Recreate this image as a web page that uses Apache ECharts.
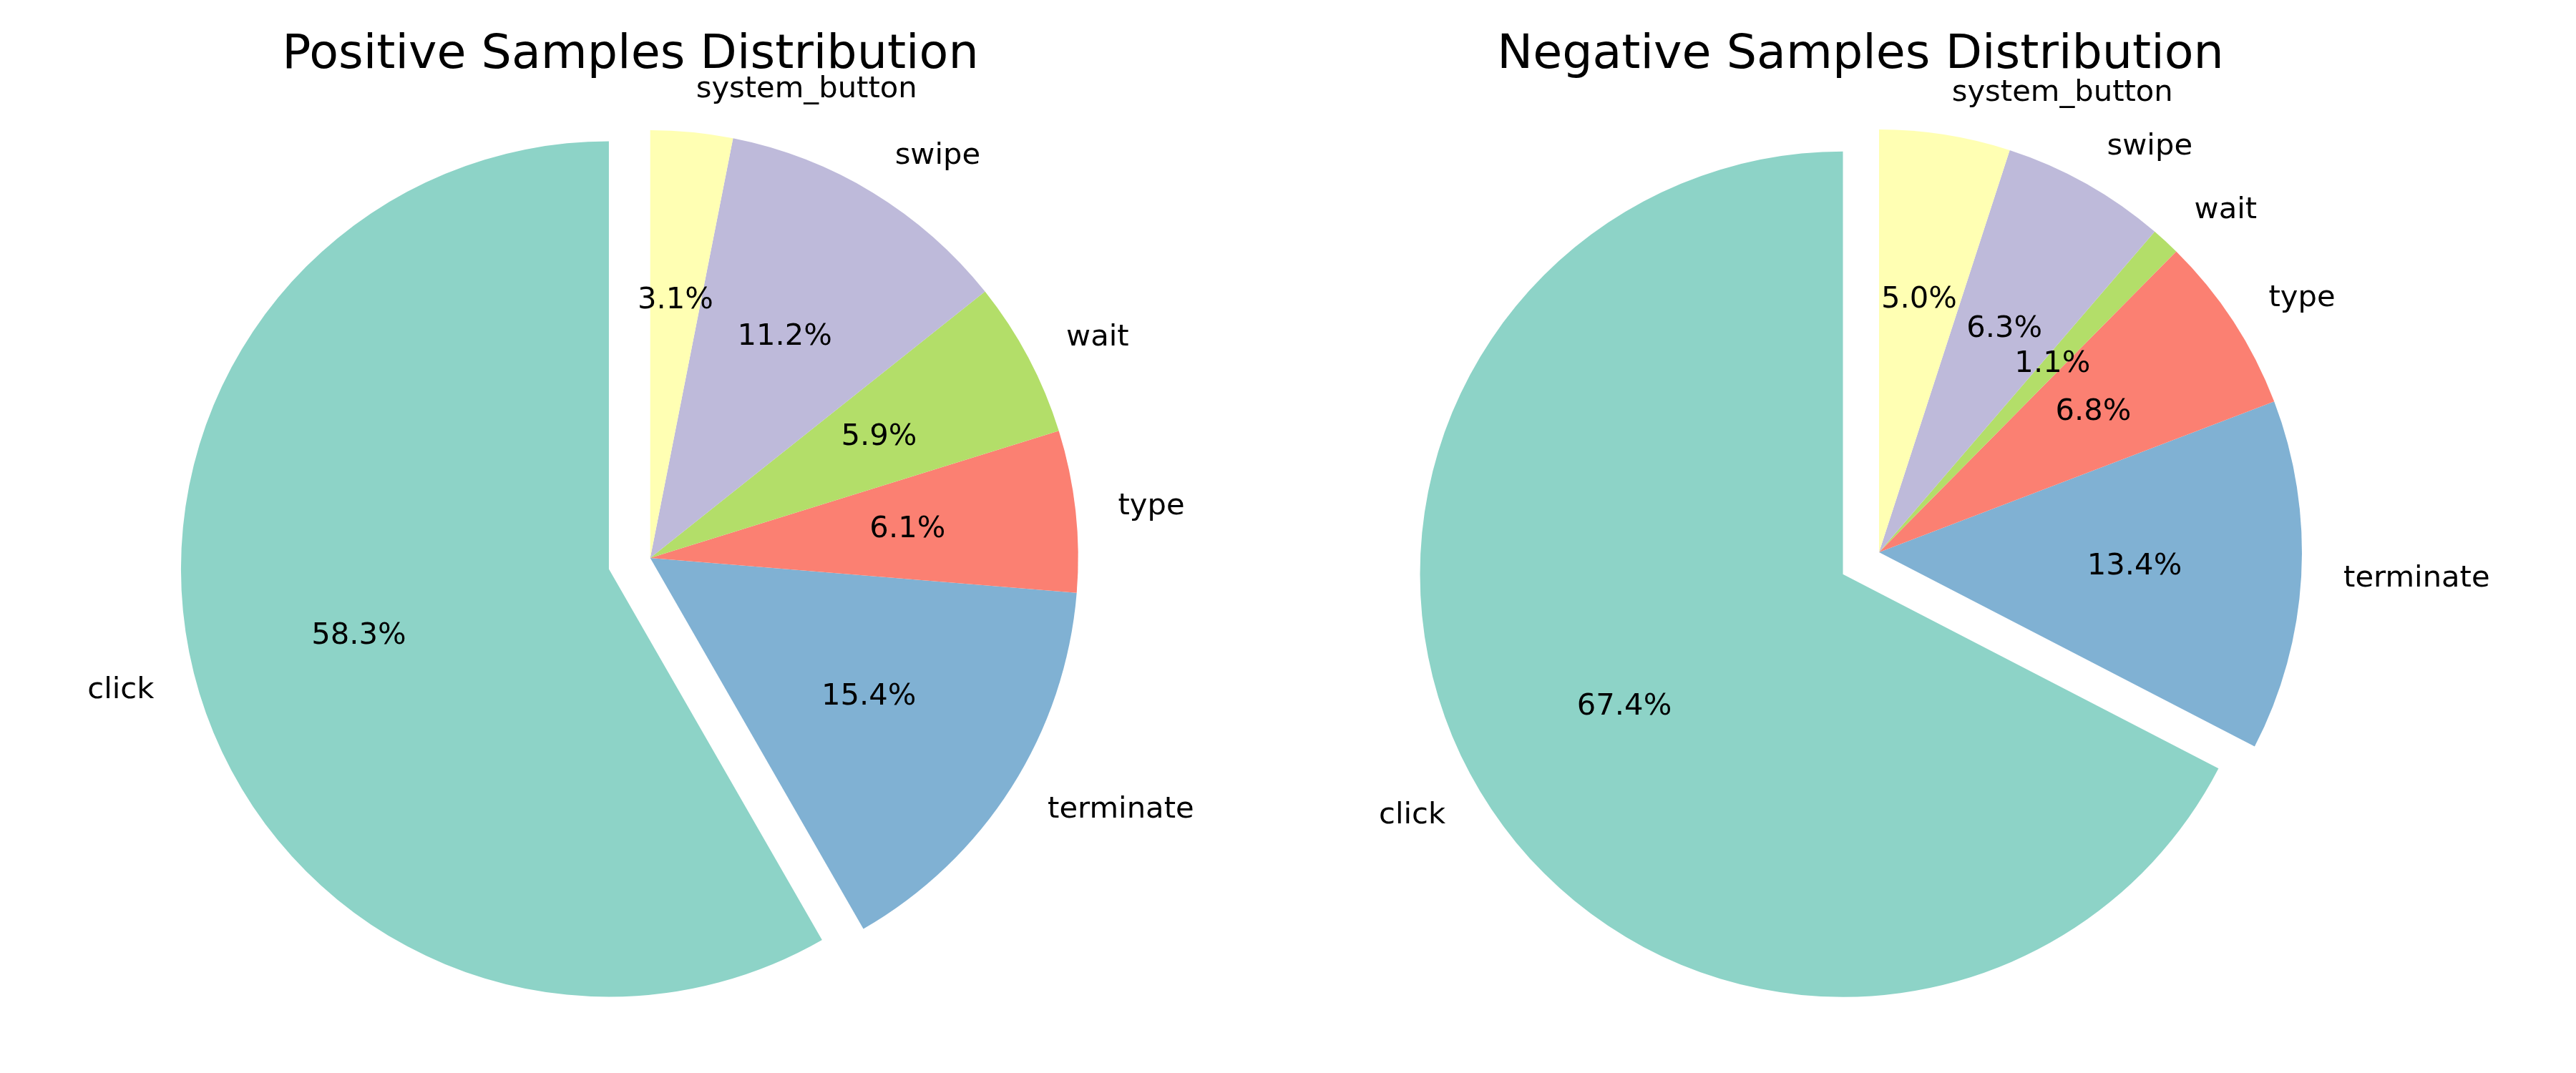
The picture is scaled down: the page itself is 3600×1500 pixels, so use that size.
<!DOCTYPE html>
<html>
<head>
<meta charset="utf-8">
<script src="https://cdn.jsdelivr.net/npm/echarts@6/dist/echarts.min.js"></script>
<style>
html,body{margin:0;padding:0;background:#fff;}
#chart{width:3600px;height:1500px;}
</style>
</head>
<body>
<div id="chart"></div>
<script>
// ---- data ----
const categories = ['click', 'terminate', 'type', 'wait', 'swipe', 'system_button'];
const positiveValues = [58.3, 15.4, 6.1, 5.9, 11.2, 3.1];
const negativeValues = [67.4, 13.4, 6.8, 1.1, 6.3, 5.0];
const explodedCategory = 'click';
const titles = ['Positive Samples Distribution', 'Negative Samples Distribution'];
const colors = {
  click: '#8dd3c7', terminate: '#80b1d3', type: '#fb8072',
  wait: '#b3de69', swipe: '#bebada', system_button: '#ffffb3'
};

// ---- layout ----
const FONT = 'DejaVu Sans';
const pies = [
  { values: positiveValues, center: [908.7, 780], r: 598, titleX: 881 },
  { values: negativeValues, center: [2626, 772], r: 591, titleX: 2600 }
];

function buildData(values, transparent) {
  return categories.map((c, i) => ({
    name: c,
    value: values[i],
    selected: c === explodedCategory,
    itemStyle: { color: transparent ? 'rgba(0,0,0,0)' : colors[c] }
  }));
}

const series = [];
pies.forEach(p => {
  const common = {
    type: 'pie',
    center: p.center,
    startAngle: 90,
    clockwise: false,
    selectedMode: 'multiple',
    selectedOffset: p.r * 0.1,
    avoidLabelOverlap: false,
    minAngle: 0,
    stillShowZeroSum: true,
    animation: false,
    silent: true,
    emphasis: { disabled: true, scale: false },
    select: { disabled: false },
    labelLayout: { hideOverlap: false }
  };
  // wedges + category labels at 1.1 r
  series.push(Object.assign({}, common, {
    radius: [0, p.r],
    data: buildData(p.values, false),
    label: {
      show: true,
      position: 'outside',
      formatter: '{b}',
      color: '#000',
      fontFamily: FONT,
      fontSize: 41.7,
      distanceToLabelLine: 0
    },
    labelLine: { show: false, length: p.r * 0.1, length2: 0 }
  }));
  // percentage labels at 0.6 r
  series.push(Object.assign({}, common, {
    radius: [0, p.r * 1.2],
    z: 3,
    data: buildData(p.values, true),
    label: {
      show: true,
      position: 'inner',
      formatter: prm => prm.value.toFixed(1) + '%',
      color: '#000',
      fontFamily: FONT,
      fontSize: 41.7
    },
    labelLine: { show: false }
  }));
});

const option = {
  backgroundColor: '#ffffff',
  animation: false,
  title: pies.map((p, i) => ({
    text: titles[i],
    left: p.titleX,
    top: 44,
    padding: 0,
    textAlign: 'center',
    textStyle: { fontFamily: FONT, fontSize: 66.7, fontWeight: 'normal', color: '#000' }
  })),
  series: series
};

const chart = echarts.init(document.getElementById('chart'), null, { renderer: 'canvas' });
chart.setOption(option);
</script>
</body>
</html>
